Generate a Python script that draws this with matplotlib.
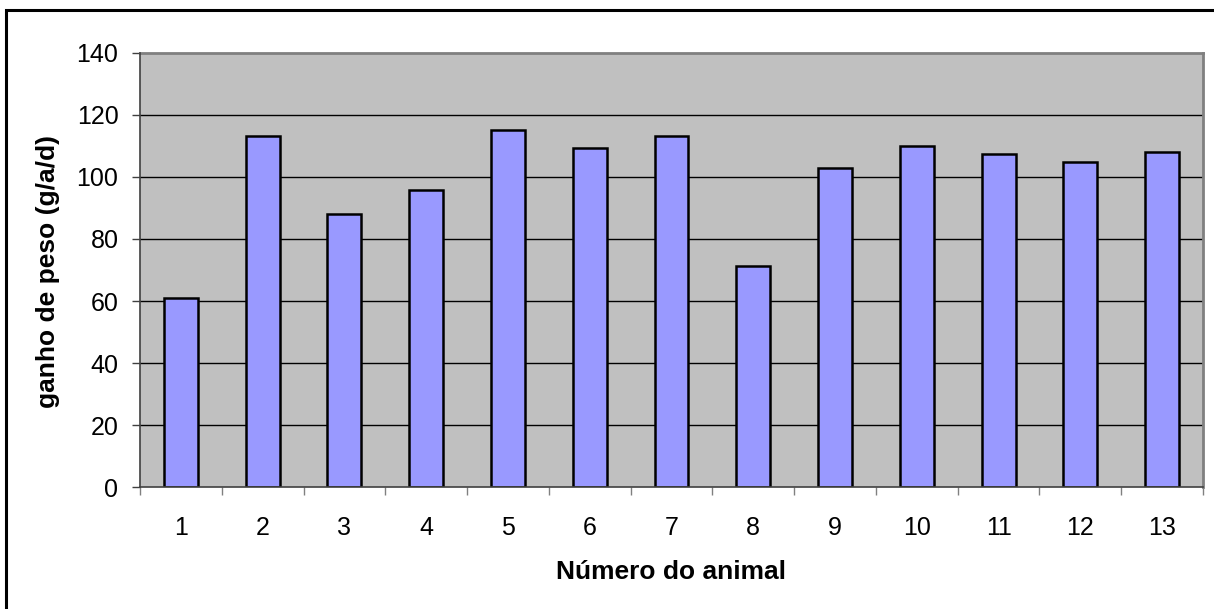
import matplotlib
matplotlib.use("Agg")
import matplotlib.pyplot as plt
from matplotlib.patches import Rectangle

animals = ["1", "2", "3", "4", "5", "6", "7", "8", "9", "10", "11", "12", "13"]
ganho = [60.9, 113.1, 88.0, 95.7, 115.0, 109.2, 113.1, 71.3, 102.9, 109.9, 107.3, 104.7, 107.9]
yticks = [0, 20, 40, 60, 80, 100, 120, 140]

plt.rcParams['font.family'] = ['Liberation Sans', 'DejaVu Sans']

W, H = 1214, 609
fig = plt.figure(figsize=(W / 100, H / 100), dpi=100)
fig.patch.set_facecolor('white')

left, right, top, bottom = 140, 1203, 52.7, 487.3
ax = fig.add_axes([left / W, 1 - bottom / H, (right - left) / W, (bottom - top) / H])
ax.set_facecolor('#C0C0C0')

x = list(range(len(animals)))
ax.bar(x, ganho, width=0.415, color='#9999FF', edgecolor='black', linewidth=1.8, zorder=3)

ax.set_xlim(-0.5, len(animals) - 0.5)
ax.set_ylim(0, 140)
ax.set_yticks(yticks)
ax.set_yticklabels([str(v) for v in yticks], fontsize=18)
for v in yticks[1:-1]:
    ax.axhline(v, color='black', linewidth=1.0, zorder=1)

ax.set_xticks(x)
ax.set_xticklabels(animals, fontsize=18)
ax.tick_params(axis='x', length=0, pad=21)
ax.set_xticks([i - 0.5 for i in range(len(animals) + 1)], minor=True)
ax.tick_params(axis='x', which='minor', length=6, width=1, color='#808080', direction='out')
ax.tick_params(axis='y', length=6, width=1, color='#404040', direction='out', pad=9.5)

for s in ['top', 'right']:
    ax.spines[s].set_color('#808080')
    ax.spines[s].set_linewidth(2)
for s in ['left', 'bottom']:
    ax.spines[s].set_color('#404040')
    ax.spines[s].set_linewidth(1.2)
    ax.spines[s].set_zorder(4)

fig.text((left + right) / 2 / W, 1 - 572 / H, "Número do animal", ha='center', va='center',
         fontsize=19, fontweight='bold')
fig.text(48 / W, 1 - 272 / H, "ganho de peso (g/a/d)", ha='center', va='center',
         rotation=90, fontsize=19, fontweight='bold')

frame = Rectangle((6 / W, -0.1), 1.2, 1 - 10 / H + 0.1, transform=fig.transFigure,
                  fill=False, edgecolor='black', linewidth=2.2)
fig.add_artist(frame)

fig.savefig("out.png", dpi=100)
